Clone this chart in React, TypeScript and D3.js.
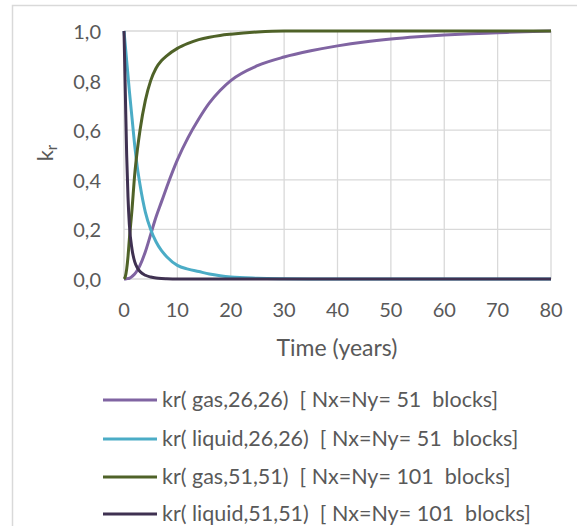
import React, {useEffect, useRef} from 'react';
import * as d3 from 'd3';

// time (years) sample points shared by all series
const time = [0, 0.25, 0.5, 0.75, 1, 1.5, 2, 2.5, 3, 4, 5, 6, 7, 8, 10, 12, 14, 16, 18, 20, 25, 30, 35, 40, 45, 50, 55, 60, 65, 70, 75, 80];

const gas26 = [0, 0, 0.001, 0.002, 0.003, 0.01, 0.02, 0.035, 0.055, 0.11, 0.18, 0.25, 0.31, 0.37, 0.48, 0.57, 0.645, 0.71, 0.76, 0.8, 0.86, 0.895, 0.92, 0.94, 0.956, 0.968, 0.977, 0.984, 0.989, 0.993, 0.997, 1.0];
const liquid26 = [1, 0.94, 0.88, 0.82, 0.76, 0.65, 0.54, 0.45, 0.38, 0.27, 0.2, 0.15, 0.115, 0.09, 0.055, 0.04, 0.03, 0.02, 0.013, 0.008, 0.003, 0.001, 0, 0, 0, 0, 0, 0, 0, 0, 0, 0];
const gas51 = [0, 0.01, 0.04, 0.09, 0.16, 0.28, 0.42, 0.52, 0.6, 0.72, 0.8, 0.85, 0.88, 0.9, 0.93, 0.95, 0.965, 0.975, 0.982, 0.987, 0.996, 1, 1, 1, 1, 1, 1, 1, 1, 1, 1, 1];
const liquid51 = [1, 0.75, 0.5, 0.33, 0.22, 0.12, 0.07, 0.045, 0.03, 0.015, 0.008, 0.004, 0.002, 0.001, 0, 0, 0, 0, 0, 0, 0, 0, 0, 0, 0, 0, 0, 0, 0, 0, 0, 0];

const seriesNames = [
    'kr( gas,26,26)  [ Nx=Ny= 51  blocks]',
    'kr( liquid,26,26)  [ Nx=Ny= 51  blocks]',
    'kr( gas,51,51)  [ Nx=Ny= 101  blocks]',
    'kr( liquid,51,51)  [ Nx=Ny= 101  blocks]',
];
const seriesValues = [gas26, liquid26, gas51, liquid51];
const colors = ['#8064A2', '#4BACC6', '#4F6228', '#3F3151'];

const xTicks = [0, 10, 20, 30, 40, 50, 60, 70, 80];
const yTicks = [0, 0.2, 0.4, 0.6, 0.8, 1.0];

const FONT = 'Lato, "Open Sans", sans-serif';
const TEXT = '#595959';

export default function App() {
    const ref = useRef<SVGSVGElement>(null);

    useEffect(() => {
        const width = 577, height = 526;
        const svg = d3.select(ref.current);
        svg.selectAll('*').remove();
        svg.attr('width', width).attr('height', height);

        svg.append('rect')
            .attr('x', 12.5).attr('y', 5.5)
            .attr('width', 600).attr('height', 600)
            .attr('fill', 'white')
            .attr('stroke', '#D9D9D9')
            .attr('stroke-width', 1.5);

        const x = d3.scaleLinear().domain([0, 80]).range([124, 551]);
        const y = d3.scaleLinear().domain([0, 1]).range([279, 31]);

        const g = svg.append('g');

        // grid
        g.selectAll('line.vg').data(xTicks).enter().append('line')
            .attr('x1', d => x(d)).attr('x2', d => x(d))
            .attr('y1', y(0)).attr('y2', y(1))
            .attr('stroke', '#D9D9D9').attr('stroke-width', 1.3);
        g.selectAll('line.hg').data(yTicks).enter().append('line')
            .attr('x1', x(0)).attr('x2', x(80))
            .attr('y1', d => y(d)).attr('y2', d => y(d))
            .attr('stroke', '#D9D9D9').attr('stroke-width', 1.3);

        // tick labels
        g.selectAll('text.xt').data(xTicks).enter().append('text')
            .attr('x', d => x(d)).attr('y', 317)
            .attr('text-anchor', 'middle')
            .attr('font-family', FONT).attr('font-size', 20)
            .attr('fill', TEXT)
            .text(d => d3.format('d')(d));
        g.selectAll('text.yt').data(yTicks).enter().append('text')
            .attr('x', 101).attr('y', d => y(d) + 8)
            .attr('text-anchor', 'end')
            .attr('font-family', FONT).attr('font-size', 20)
            .attr('fill', TEXT)
            .text(d => d3.format('.1f')(d).replace('.', ','));

        // axis titles
        g.append('text')
            .attr('x', 337).attr('y', 356)
            .attr('text-anchor', 'middle')
            .attr('font-family', FONT).attr('font-size', 23)
            .attr('fill', TEXT)
            .text('Time (years)');
        const yl = g.append('text')
            .attr('transform', 'translate(53,153) rotate(-90)')
            .attr('text-anchor', 'middle')
            .attr('font-family', FONT).attr('font-size', 22)
            .attr('fill', TEXT);
        yl.append('tspan').text('k');
        yl.append('tspan').attr('font-size', 15).attr('dy', 4).text('r');

        // lines
        const line = d3.line<number>()
            .x((_, i) => x(time[i]))
            .y(d => y(d))
            .curve(d3.curveMonotoneX);
        seriesValues.forEach((vals, i) => {
            g.append('path')
                .datum(vals)
                .attr('d', line)
                .attr('fill', 'none')
                .attr('stroke', colors[i])
                .attr('stroke-width', 3)
                .attr('stroke-linejoin', 'round');
        });

        // legend
        const legendY = [400, 439, 477, 514];
        seriesNames.forEach((name, i) => {
            g.append('line')
                .attr('x1', 103).attr('x2', 157)
                .attr('y1', legendY[i]).attr('y2', legendY[i])
                .attr('stroke', colors[i]).attr('stroke-width', 3);
            g.append('text')
                .attr('x', 162).attr('y', legendY[i] + 7)
                .attr('font-family', FONT).attr('font-size', 21.5)
                .attr('fill', TEXT)
                .style('white-space', 'pre')
                .text(name);
        });
    }, []);

    return (
        <div style={{position: 'absolute', left: 0, top: 0}}>
            <svg ref={ref} style={{display: 'block'}}/>
        </div>
    );
}
